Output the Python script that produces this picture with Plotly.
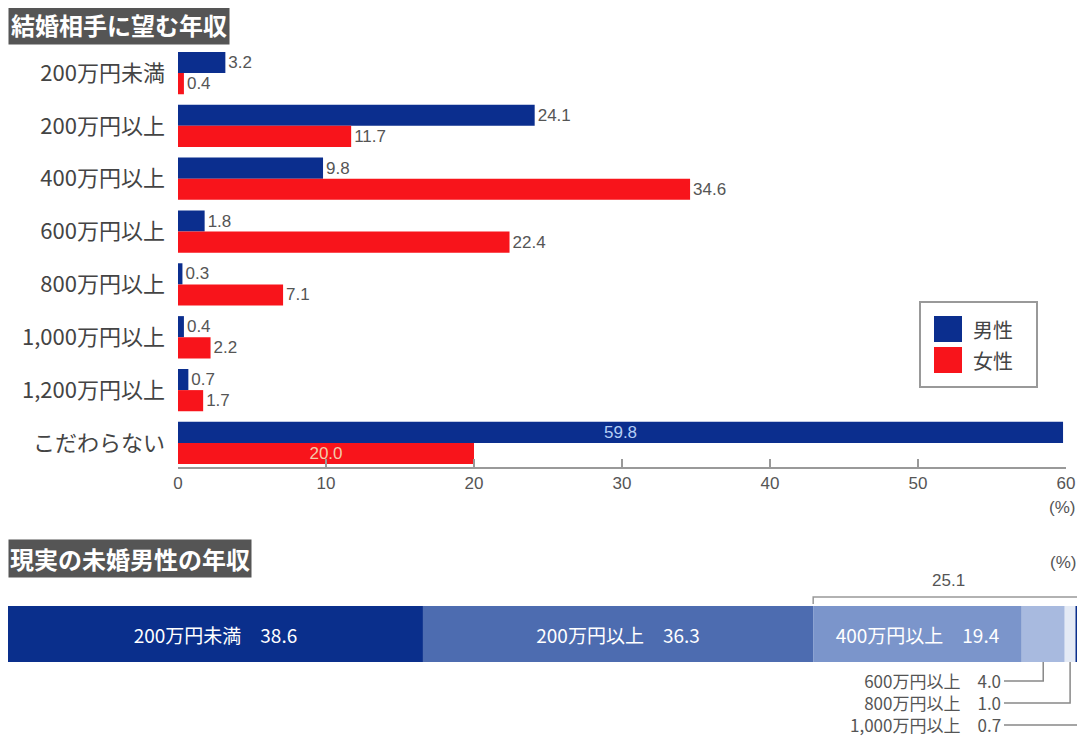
import plotly.graph_objects as go
from itertools import accumulate

# ---------------- data ----------------
categories = ["200万円未満", "200万円以上", "400万円以上", "600万円以上",
              "800万円以上", "1,000万円以上", "1,200万円以上", "こだわらない"]
male = [3.2, 24.1, 9.8, 1.8, 0.3, 0.4, 0.7, 59.8]
female = [0.4, 11.7, 34.6, 22.4, 7.1, 2.2, 1.7, 20.0]
x_ticks = [0, 10, 20, 30, 40, 50, 60]

real_cats = ["200万円未満", "200万円以上", "400万円以上", "600万円以上",
             "800万円以上", "1,000万円以上"]
real_vals = [38.6, 36.3, 19.4, 4.0, 1.0, 0.7]

# ---------------- style ----------------
# page body has an 8px margin, so the figure is sized/offset accordingly
OFF = 8
FW, FH = 1085 - OFF, 738 - OFF
BLUE = "#0b2e8e"
RED = "#f8141b"
GRAY_TXT = "#555555"
JP = "Noto Sans CJK JP, Noto Sans, sans-serif"
NUM = "Liberation Sans, Arial, sans-serif"
real_colors = ["#0a2f8c", "#4d6cb0", "#7b95cb", "#a8badf", "#e4eaf5", "#0a2f8c"]


def px(xp):
    return (xp - OFF) / FW


def py(yp):
    return 1 - (yp - OFF) / FH


TOP_L, TOP_R, TOP_T, TOP_B = 178, 1066, 46.6, 467
BOT_L, BOT_R, BOT_T, BOT_B = 8, 1083, 606, 662

n = len(categories)
inside_last = ["outside"] * (n - 1) + ["inside"]

fig = go.Figure()
fig.add_trace(go.Bar(
    orientation="h", y=categories, x=male, name="男性",
    offset=-0.4, width=0.4, marker=dict(color=BLUE, line=dict(width=0)),
    text=[f"{v:.1f}" for v in male], textposition=inside_last,
    insidetextanchor="middle", constraintext="none", cliponaxis=False,
    textfont=dict(family=NUM, size=17, color=[GRAY_TXT] * (n - 1) + ["#b4cdf5"]),
    xaxis="x", yaxis="y", showlegend=False, hoverinfo="x+y"))
fig.add_trace(go.Bar(
    orientation="h", y=categories, x=female, name="女性",
    offset=0.0, width=0.4, marker=dict(color=RED, line=dict(width=0)),
    text=[f"{v:.1f}" for v in female], textposition=inside_last,
    insidetextanchor="middle", constraintext="none", cliponaxis=False,
    textfont=dict(family=NUM, size=17, color=[GRAY_TXT] * (n - 1) + ["#f4c9a8"]),
    xaxis="x", yaxis="y", showlegend=False, hoverinfo="x+y"))

# bottom stacked bar (bases from cumulative sums)
bases = [0] + list(accumulate(real_vals))[:-1]
seg_text = [f"{c}　{v:.1f}" if i < 3 else "" for i, (c, v) in enumerate(zip(real_cats, real_vals))]
fig.add_trace(go.Bar(
    orientation="h", y=[0] * len(real_vals), x=real_vals, base=bases,
    width=1, marker=dict(color=real_colors, line=dict(width=0)),
    text=seg_text, textposition="inside", insidetextanchor="middle",
    constraintext="none",
    textfont=dict(family=JP, size=19, color="white"),
    customdata=real_cats, hovertemplate="%{customdata}: %{x}<extra></extra>",
    xaxis="x2", yaxis="y2", showlegend=False))

total = sum(real_vals)
x2_per_px = total / (BOT_R - BOT_L)

annotations = []
shapes = []

# titles
annotations.append(dict(x=px(8), y=py(4), xref="paper", yref="paper", xanchor="left", yanchor="top",
                        text="結婚相手に望む年収", showarrow=False, bgcolor="#555555", borderpad=2,
                        font=dict(family=JP, size=24, color="white", weight=700)))
annotations.append(dict(x=px(8), y=py(539), xref="paper", yref="paper", xanchor="left", yanchor="top",
                        text="現実の未婚男性の年収", showarrow=False, bgcolor="#555555", borderpad=1,
                        font=dict(family=JP, size=24, color="white", weight=700)))

# (%) labels
annotations.append(dict(x=px(1077), y=py(507), xref="paper", yref="paper", xanchor="right", yanchor="middle",
                        text="(%)", showarrow=False, font=dict(family=NUM, size=17, color=GRAY_TXT)))
annotations.append(dict(x=px(1078), y=py(562), xref="paper", yref="paper", xanchor="right", yanchor="middle",
                        text="(%)", showarrow=False, font=dict(family=NUM, size=17, color=GRAY_TXT)))

# legend (manual)
shapes.append(dict(type="rect", xref="paper", yref="paper", x0=px(920), x1=px(1037), y0=py(302), y1=py(387),
                   line=dict(color="#999999", width=2), fillcolor="white"))
for (name, col, yc) in [("男性", BLUE, 329), ("女性", RED, 360)]:
    shapes.append(dict(type="rect", xref="paper", yref="paper", x0=px(934), x1=px(962),
                       y0=py(yc - 13), y1=py(yc + 13), line=dict(width=0), fillcolor=col))
    annotations.append(dict(x=px(971), y=py(yc), xref="paper", yref="paper", xanchor="left", yanchor="middle",
                            text=name, showarrow=False, font=dict(family=JP, size=20, color="#444444")))

# bracket for 400万円以上 and above
br_start = bases[2]
br_val = sum(real_vals[2:])
br_end = total - 0.3
shapes.append(dict(type="path", xref="x2", yref="paper",
                   path=f"M {br_start},{py(604)} L {br_start},{py(597)} L {br_end},{py(597)} L {br_end},{py(604)}",
                   line=dict(color="#999999", width=1.5)))
annotations.append(dict(x=(br_start + total) / 2, y=py(580), xref="x2", yref="paper",
                        xanchor="center", yanchor="middle", text=f"{br_val:.1f}", showarrow=False,
                        font=dict(family=NUM, size=17, color=GRAY_TXT)))

# leader labels for small segments (one right-aligned block of three lines)
LAB_SIZE = 17
line_h = 1.3 * LAB_SIZE
mid_y = 702
label_end_px = 1004
small_idx = [3, 4, 5]
annotations.append(dict(x=px(label_end_px - 1), y=py(mid_y), xref="paper", yref="paper",
                        xanchor="right", yanchor="middle", align="right",
                        text="<br>".join(f"{real_cats[i]}　{real_vals[i]:.1f}" for i in small_idx),
                        showarrow=False, font=dict(family=JP, size=LAB_SIZE, color=GRAY_TXT)))
for k, i in enumerate(small_idx):
    center = bases[i] + real_vals[i] / 2
    yl = mid_y + (k - 1) * line_h + 1
    x_from = (label_end_px - BOT_L) * x2_per_px
    shapes.append(dict(type="path", xref="x2", yref="paper",
                       path=f"M {x_from},{py(yl)} L {center},{py(yl)} L {center},{py(BOT_B)}",
                       line=dict(color="#888888", width=1.5)))

fig.update_layout(
    width=FW, height=FH,
    margin=dict(l=0, r=0, t=0, b=0),
    paper_bgcolor="white", plot_bgcolor="white",
    barmode="overlay",
    uniformtext=dict(minsize=15, mode="show"),
    xaxis=dict(domain=[px(TOP_L), px(TOP_R)], range=[0, 60], tickvals=x_ticks,
               ticks="inside", ticklen=8, tickcolor="#999999", tickwidth=1.5,
               showline=True, linecolor="#999999", linewidth=1.5,
               showgrid=False, zeroline=False, anchor="y",
               tickfont=dict(family=NUM, size=17, color=GRAY_TXT), automargin=False),
    yaxis=dict(domain=[py(TOP_B), py(TOP_T)], range=[n - 1 + 0.455, -0.5],
               type="category", categoryorder="array", categoryarray=categories,
               showline=False, ticks="", showgrid=False, zeroline=False, anchor="x",
               ticklabelstandoff=12,
               tickfont=dict(family=JP, size=22, color="#444444"), automargin=False),
    xaxis2=dict(domain=[px(BOT_L), px(BOT_R)], range=[0, total], visible=False,
                anchor="y2", automargin=False),
    yaxis2=dict(domain=[py(BOT_B), py(BOT_T)], range=[-0.5, 0.5], visible=False,
                anchor="x2", automargin=False),
    annotations=annotations,
    shapes=shapes,
)

fig.write_html("out.html")
